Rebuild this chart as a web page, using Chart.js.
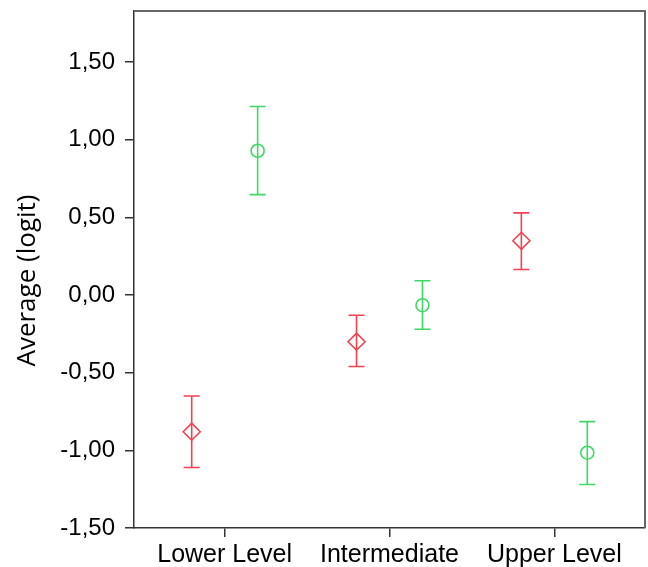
<!DOCTYPE html>
<html>
<head>
<meta charset="utf-8">
<script src="https://cdn.jsdelivr.net/npm/chart.js@4/dist/chart.umd.min.js"></script>
<style>
  html, body { margin: 0; padding: 0; background: #ffffff; }
  #wrap { width: 648px; height: 567px; }
</style>
</head>
<body>
<div id="wrap"><canvas id="c" width="648" height="567"></canvas></div>
<script>
// ---- data ----
const categories = ['Lower Level', 'Intermediate', 'Upper Level'];
const yTickValues = [-1.5, -1.0, -0.5, 0.0, 0.5, 1.0, 1.5];
const yAxisTitle = 'Average (logit)';

const redMeans  = [-0.88, -0.30, 0.35];
const redUpper  = [-0.65, -0.13, 0.53];
const redLower  = [-1.11, -0.46, 0.165];

const greenMeans = [0.93, -0.065, -1.015];
const greenUpper = [1.215, 0.093, -0.815];
const greenLower = [0.647, -0.22, -1.22];

const groupOffset = 0.2;   // horizontal dodge of the two series within a category
const redColor = '#f2414f';
const greenColor = '#3fd865';

function pts(means, off) {
  return means.map((v, i) => ({ x: i + off, y: v }));
}

function noPad(s) {
  s.paddingTop = 0; s.paddingBottom = 0; s.paddingLeft = 0; s.paddingRight = 0;
}

const errorBarPlugin = {
  id: 'errorBars',
  beforeDatasetsDraw(chart) {
    const ctx = chart.ctx;
    const xs = chart.scales.x, ys = chart.scales.y;
    const sets = [
      { lo: redLower, hi: redUpper, off: -groupOffset, color: redColor },
      { lo: greenLower, hi: greenUpper, off: groupOffset, color: greenColor }
    ];
    ctx.save();
    ctx.lineWidth = 1.6;
    sets.forEach(s => {
      ctx.strokeStyle = s.color;
      s.lo.forEach((lo, i) => {
        const x = xs.getPixelForValue(i + s.off);
        const y1 = ys.getPixelForValue(s.hi[i]);
        const y2 = ys.getPixelForValue(lo);
        ctx.beginPath();
        ctx.moveTo(x, y1); ctx.lineTo(x, y2);
        ctx.moveTo(x - 8, y1); ctx.lineTo(x + 8, y1);
        ctx.moveTo(x - 8, y2); ctx.lineTo(x + 8, y2);
        ctx.stroke();
      });
    });
    ctx.restore();
  },
  afterDraw(chart) {
    const { ctx, chartArea: a } = chart;
    ctx.save();
    ctx.strokeStyle = '#666666';
    ctx.lineWidth = 2;
    ctx.beginPath();
    ctx.moveTo(a.left, a.top); ctx.lineTo(a.right, a.top); ctx.lineTo(a.right, a.bottom);
    ctx.stroke();
    // y-axis title (drawn slightly below the axis centre, as in the reference)
    ctx.translate(28, (a.top + a.bottom) / 2 + 11);
    ctx.rotate(-Math.PI / 2);
    ctx.fillStyle = '#000000';
    ctx.font = '26px "Open Sans", sans-serif';
    ctx.textAlign = 'center';
    ctx.textBaseline = 'middle';
    ctx.fillText(yAxisTitle, 0, 0);
    ctx.restore();
  }
};

new Chart(document.getElementById('c'), {
  type: 'scatter',
  data: {
    datasets: [
      {
        label: 'red',
        data: pts(redMeans, -groupOffset),
        pointStyle: 'rectRot',
        pointRadius: 8.5,
        pointHoverRadius: 8.5,
        borderColor: redColor,
        backgroundColor: 'rgba(0,0,0,0)',
        borderWidth: 1.6
      },
      {
        label: 'green',
        data: pts(greenMeans, groupOffset),
        pointStyle: 'circle',
        pointRadius: 6.5,
        pointHoverRadius: 6.5,
        borderColor: greenColor,
        backgroundColor: 'rgba(0,0,0,0)',
        borderWidth: 1.6
      }
    ]
  },
  options: {
    responsive: false,
    animation: false,
    events: [],
    layout: { autoPadding: false, padding: { top: 11, right: 3, left: 0, bottom: 0 } },
    plugins: { legend: { display: false }, tooltip: { enabled: false } },
    scales: {
      x: {
        type: 'linear',
        min: -0.55,
        max: 2.55,
        afterFit(s) { s.height = 39; noPad(s); },
        afterBuildTicks(s) { s.ticks = categories.map((c, i) => ({ value: i })); },
        border: { display: true, color: '#333333', width: 1.5 },
        grid: { drawOnChartArea: false, drawTicks: true, tickLength: 9, color: '#333333', lineWidth: 1.5 },
        ticks: {
          padding: 3,
          color: '#000000',
          font: { family: '"Liberation Sans", Arial, sans-serif', size: 25 },
          callback: (v) => categories[Math.round(v)]
        }
      },
      y: {
        type: 'linear',
        min: -1.5,
        max: 1.83,
        afterFit(s) { s.width = 134; noPad(s); },
        afterBuildTicks(s) { s.ticks = yTickValues.map(v => ({ value: v })); },
        border: { display: true, color: '#333333', width: 1.5 },
        grid: { drawOnChartArea: false, drawTicks: true, tickLength: 9, color: '#333333', lineWidth: 1.5 },
        ticks: {
          padding: 10,
          color: '#000000',
          font: { family: '"Liberation Sans", Arial, sans-serif', size: 24 },
          callback: (v) => v.toFixed(2).replace('.', ',')
        },
        title: { display: false }
      }
    }
  },
  plugins: [errorBarPlugin]
});
</script>
</body>
</html>
